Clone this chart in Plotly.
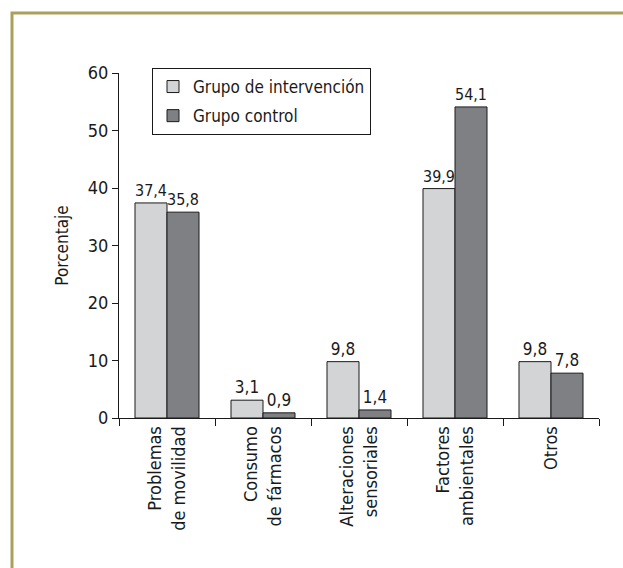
import plotly.graph_objects as go

categories = ["Problemas<br>de movilidad", "Consumo<br>de fármacos", "Alteraciones<br>sensoriales",
              "Factores<br>ambientales", "Otros"]
intervencion = [37.4, 3.1, 9.8, 39.9, 9.8]
control = [35.8, 0.9, 1.4, 54.1, 7.8]
series_names = ["Grupo de intervención", "Grupo control"]
y_ticks = [0, 10, 20, 30, 40, 50, 60]

FONT = "Liberation Sans Narrow, DejaVu Sans Condensed, Arial Narrow, sans-serif"

def fmt(v):
    return f"{v:.1f}".replace(".", ",")

fig = go.Figure()
fig.add_trace(go.Bar(x=categories, y=intervencion, name=series_names[0], legendgroup="a",
                     marker=dict(color="#d3d4d6", line=dict(color="#1a1a1a", width=1)),
                     text=[fmt(v) for v in intervencion], textposition="outside",
                     textfont=dict(size=17, color="#1a1a1a"), cliponaxis=False))
fig.add_trace(go.Bar(x=categories, y=control, name=series_names[1], legendgroup="b",
                     marker=dict(color="#7f8084", line=dict(color="#1a1a1a", width=1)),
                     text=[fmt(v) for v in control], textposition="outside",
                     textfont=dict(size=17, color="#1a1a1a"), cliponaxis=False))

L, R, T, B = 119, 24, 73, 150
W, H = 623, 568
pw, ph = W - L - R, H - T - B

fig.update_layout(
    width=W, height=H,
    margin=dict(l=L, r=R, t=T, b=B, pad=0),
    paper_bgcolor="white", plot_bgcolor="white",
    font=dict(family=FONT, size=16, color="#1a1a1a"),
    barmode="group", bargap=1/3, bargroupgap=0,
    showlegend=True,
    legend=dict(x=(152 - L) / pw, y=1 + (T - 68) / ph, xanchor="left", yanchor="top",
                bordercolor="#1a1a1a", borderwidth=1, bgcolor="white",
                font=dict(size=17), traceorder="grouped", tracegroupgap=4),
    xaxis=dict(showline=True, linecolor="#1a1a1a", linewidth=1, ticks="outside",
               ticklen=7, tickcolor="#1a1a1a", tickson="boundaries", tickangle=-90,
               tickfont=dict(size=18), showgrid=False, zeroline=False),
    yaxis=dict(range=[0, 60], tickvals=y_ticks, showline=True, linecolor="#1a1a1a",
               linewidth=1, ticks="outside", ticklen=6, tickcolor="#1a1a1a",
               showgrid=False, zeroline=False, tickfont=dict(size=18),
               title=dict(text="Porcentaje", font=dict(size=17), standoff=14)),
    shapes=[dict(type="rect", xref="paper", yref="paper",
                 x0=(12 - L) / pw, x1=2, y0=-2, y1=1 + (T - 13) / ph,
                 line=dict(color="#aaa05c", width=3), fillcolor="rgba(0,0,0,0)", layer="below")],
)

fig.write_html("out.html")
